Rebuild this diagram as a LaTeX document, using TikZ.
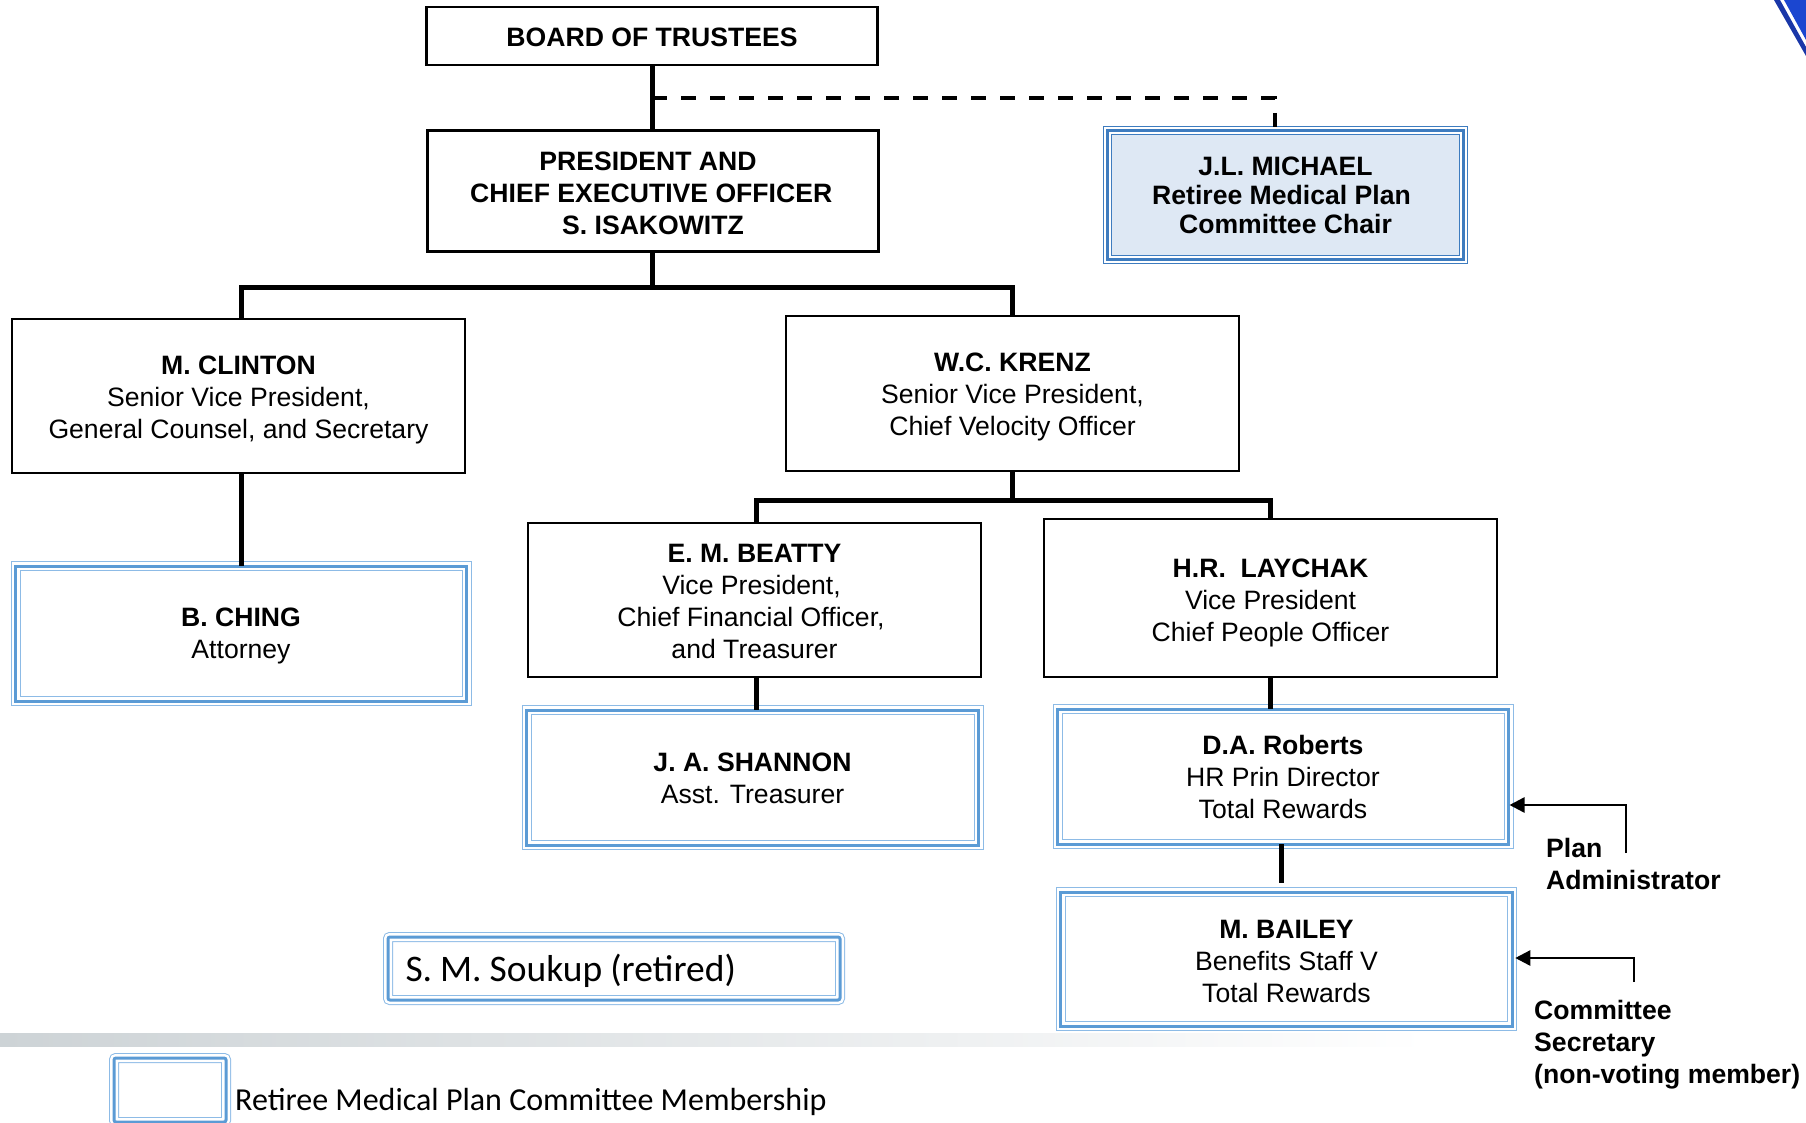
\documentclass[tikz,border=0pt]{standalone}
\usepackage{fontspec}
\setmainfont{Liberation Sans}
\newfontfamily\calfont{Carlito}
\usepackage{xcolor}
\usetikzlibrary{arrows.meta}
\definecolor{ringblue}{HTML}{5B9BD5}
\definecolor{ringlight}{HTML}{8DBBE6}
\definecolor{chairblue}{HTML}{3E7CBF}
\definecolor{chairfill}{HTML}{DEE8F4}
\definecolor{bandgrey}{HTML}{CDD3D6}
\definecolor{logoblue}{HTML}{1A37A8}
\definecolor{logobright}{HTML}{1B46D0}
\newcommand{\drop}[1]{\rule{0pt}{#1}}
\newcommand{\tail}[1]{\rule{#1}{0pt}}
\tikzset{
    boxtext/.style={outer sep=0pt, inner sep=0pt, align=center, font=\fontsize{26.6}{32}\selectfont},
    plainbox/.style={boxtext, draw=black, line width=2.5pt, fill=white},
    ringbox/.style={boxtext, draw=ringblue, line width=3pt,
        preaction={draw=ringlight, line width=10pt}, preaction={draw=white, line width=8pt}},
    chairbox/.style={boxtext, draw=chairblue, line width=3pt, preaction={fill=chairfill},
        preaction={draw=chairblue, line width=9pt}, preaction={draw=white, line width=7pt}},
    trunk/.style={line width=5pt, draw=black},
    dashlink/.style={line width=4.5pt, draw=black, dash pattern=on 15pt off 14pt},
    sidearrow/.style={line width=2.5pt, draw=black, -{Stealth[inset=0pt,length=15pt,width=15pt]}, shorten >=1pt},
    sidelabel/.style={align=left, anchor=north west, inner sep=0pt, font=\bfseries\fontsize{26.6}{32}\selectfont}
}
\begin{document}
\begin{tikzpicture}[x=1pt,y=-1pt]
    \useasboundingbox (0,0) rectangle (1806,1123);

    \shade [left color=bandgrey, right color=white] (0,1033) rectangle (1428,1046);
    \fill [logobright] (1784,0) -- (1806,0) -- (1806,40) -- cycle;
    \fill [logoblue] (1774,0) -- (1780,0) -- (1806,47) -- (1806,56) -- cycle;

    \node [plainbox, minimum width=451, minimum height=58] (board) at (652,36){\drop{21pt}\textbf{BOARD OF TRUSTEES}};
    \node [plainbox, minimum width=451, minimum height=121] (president) at (653,191){\drop{24pt}\textbf{PRESIDENT AND}\tail{10pt}\\\textbf{CHIEF EXECUTIVE OFFICER}\tail{3.5pt}\\\textbf{S. ISAKOWITZ}};
    \node [chairbox, minimum width=356, minimum height=129, font=\bfseries\fontsize{26.6}{29}\selectfont] (michael) at (1285.5,195.5){J.L. MICHAEL\\Retiree Medical Plan\tail{8pt}\\Committee Chair};

    \node [plainbox, minimum width=453, minimum height=154] (clinton) at (238.5,396){\drop{26pt}\textbf{M. CLINTON}\\Senior Vice President,\\General Counsel, and Secretary};
    \node [plainbox, minimum width=453, minimum height=155] (krenz) at (1012.5,393.5){\drop{26pt}\textbf{W.C. KRENZ}\\Senior Vice President,\\Chief Velocity Officer};
    \node [ringbox, minimum width=451, minimum height=135] (ching) at (241,633.5){\drop{24pt}\textbf{B. CHING}\\Attorney};
    \node [plainbox, minimum width=453, minimum height=154] (beatty) at (754.5,600){\drop{22pt}\textbf{E. M. BEATTY}\\Vice President,\tail{6pt}\\Chief Financial Officer,\tail{7pt}\\and Treasurer};
    \node [plainbox, minimum width=453, minimum height=158] (laychak) at (1270.5,598){\drop{28pt}\textbf{H.R.\ \ LAYCHAK}\\Vice President\\Chief People Officer};
    \node [ringbox, minimum width=452, minimum height=135] (shannon) at (752.5,777.5){\drop{21pt}\textbf{J. A. SHANNON}\\Asst. Treasurer};
    \node [ringbox, minimum width=451, minimum height=135] (roberts) at (1283,776.5){\drop{21pt}\textbf{D.A. Roberts}\\HR Prin Director\\Total Rewards};
    \node [ringbox, minimum width=451.5, minimum height=134] (bailey) at (1286.5,959){\drop{22.5pt}\textbf{M. BAILEY}\\Benefits Staff V\\Total Rewards};
    \node [ringbox, rounded corners=2pt, minimum width=452, minimum height=63, text width=417, align=left, font=\calfont\fontsize{37.5}{44}\selectfont] (soukup) at (614,968.5){\drop{33pt}\spaceskip=8pt S. M. Soukup (retired)};
    \node [ringbox, rounded corners=2pt, minimum width=112, minimum height=64] (legend) at (170,1090){};
    \node [anchor=west, inner sep=0pt, font=\calfont\fontsize{32}{38}\selectfont] (legendtext) at (235,1102){Retiree Medical Plan Committee Membership};

    \node [sidelabel] (planlabel) at (1546,838.5){Plan\\Administrator};
    \node [sidelabel] (secretarylabel) at (1534,1000.5){Committee\\Secretary\\(non-voting member)};

    \coordinate (boardfork) at (652,98);
    \coordinate (topbus) at (652,287);
    \coordinate (midbus) at (1012.5,500);
    \coordinate (beattydrop) at (756,500);
    \coordinate (baileystop) at (1281,883);
    \coordinate (planend) at (1626,853);
    \coordinate (secretaryend) at (1634,982);
    \coordinate (michaeldrop) at (1275,127);

    \draw [trunk] (board.south) -- (board.south |- president.north);
    \draw [dashlink] (boardfork) -| (michaeldrop);
    \draw [trunk] (president.south -| topbus) -- (topbus);
    \draw [trunk] (ching.north |- clinton.north) -- (ching.north |- topbus) -- (krenz.north |- topbus) -- (krenz.north);
    \draw [trunk] (clinton.south -| ching.north) -- (ching.north);
    \draw [trunk] (krenz.south) -- (midbus);
    \draw [trunk] (beatty.north -| beattydrop) -- (beattydrop) -- (laychak.north |- beattydrop) -- (laychak.north);
    \draw [trunk] (beatty.south -| beattydrop) -- (shannon.north -| beattydrop);
    \draw [trunk] (laychak.south) -- (laychak.south |- roberts.north);
    \draw [trunk] (roberts.south -| baileystop) -- (baileystop);
    \draw [sidearrow] (planend) |- (roberts.east |- 0,805);
    \draw [sidearrow, shorten >=3pt] (secretaryend) |- (bailey.east |- 0,958);
\end{tikzpicture}
\end{document}
